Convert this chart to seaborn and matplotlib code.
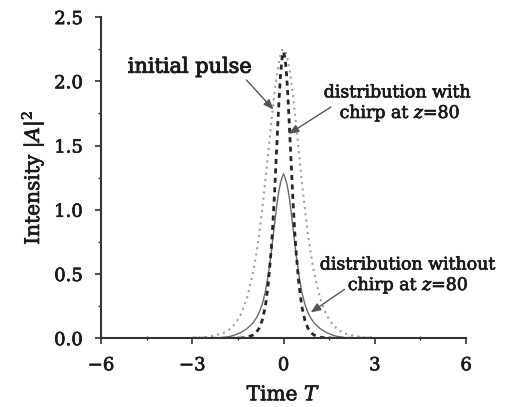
import matplotlib
matplotlib.use("Agg")
import matplotlib.pyplot as plt
import matplotlib.patheffects as pe
import seaborn as sns
import pandas as pd
from matplotlib.ticker import MultipleLocator

# ---- data ----
time_T = [-3.0, -2.5, -2.0, -1.8, -1.6, -1.4, -1.2, -1.0, -0.9, -0.8, -0.7, -0.6, -0.5,
          -0.4, -0.35, -0.3, -0.25, -0.2, -0.15, -0.1, -0.05, 0.0,
          0.05, 0.1, 0.15, 0.2, 0.25, 0.3, 0.35, 0.4, 0.5, 0.6, 0.7, 0.8, 0.9, 1.0,
          1.2, 1.4, 1.6, 1.8, 2.0, 2.5, 3.0]

initial_pulse = [0.002, 0.010, 0.037, 0.064, 0.110, 0.187, 0.313, 0.511, 0.650, 0.814, 1.01, 1.22, 1.455,
                 1.69, 1.80, 1.91, 2.00, 2.09, 2.15, 2.21, 2.24, 2.25,
                 2.24, 2.21, 2.15, 2.09, 2.00, 1.91, 1.80, 1.69, 1.455, 1.22, 1.01, 0.814, 0.650, 0.511,
                 0.313, 0.187, 0.110, 0.064, 0.037, 0.010, 0.002]

with_chirp = [0.0, 0.0, 0.0, 0.0, 0.0, 0.001, 0.008, 0.025, 0.044, 0.079, 0.141, 0.246, 0.43,
              0.708, 0.896, 1.115, 1.36, 1.61, 1.85, 2.05, 2.18, 2.23,
              2.18, 2.05, 1.85, 1.61, 1.36, 1.115, 0.896, 0.708, 0.43, 0.246, 0.141, 0.079, 0.044, 0.025,
              0.008, 0.001, 0.0, 0.0, 0.0, 0.0, 0.0]

without_chirp = [0.0, 0.001, 0.005, 0.012, 0.025, 0.045, 0.075, 0.12, 0.155, 0.20, 0.265, 0.36, 0.50,
                 0.675, 0.78, 0.88, 0.98, 1.077, 1.15, 1.21, 1.25, 1.28,
                 1.25, 1.21, 1.15, 1.077, 0.98, 0.88, 0.78, 0.675, 0.50, 0.36, 0.265, 0.20, 0.155, 0.12,
                 0.075, 0.045, 0.025, 0.012, 0.005, 0.001, 0.0]

x_ticks = [-6, -3, 0, 3, 6]
x_tick_labels = ["\u22126", "\u22123", "0", "3", "6"]
y_ticks = [0.0, 0.5, 1.0, 1.5, 2.0, 2.5]
y_tick_labels = ["0.0", "0.5", "1.0", "1.5", "2.0", "2.5"]

df = pd.DataFrame({"T": time_T, "initial": initial_pulse,
                   "chirp": with_chirp, "nochirp": without_chirp})

sns.set_theme(style="ticks")
plt.rcParams["font.family"] = ["DejaVu Serif"]
plt.rcParams["mathtext.fontset"] = "dejavuserif"

fig = plt.figure(figsize=(5.05, 4.07), dpi=100)
ax = fig.add_axes([0.200, 0.169, 0.723, 0.789])

sns.lineplot(data=df, x="T", y="initial", ax=ax, color="#a0a0a0", lw=1.5,
             linestyle=(0, (1, 2)), sort=False)
sns.lineplot(data=df, x="T", y="nochirp", ax=ax, color="#6a6a6a", lw=1.0, sort=False)
sns.lineplot(data=df, x="T", y="chirp", ax=ax, color="#262626", lw=2.0,
             linestyle=(0, (1.8, 1.6)), sort=False)

ax.set_xlim(-6, 6)
ax.set_ylim(0, 2.5)
ax.set_xticks(x_ticks)
ax.set_xticklabels(x_tick_labels)
ax.set_yticks(y_ticks)
ax.set_yticklabels(y_tick_labels)
ax.xaxis.set_minor_locator(MultipleLocator(1.5))
ax.yaxis.set_minor_locator(MultipleLocator(0.25))

for s in ["top", "right"]:
    ax.spines[s].set_visible(False)
for s in ["left", "bottom"]:
    ax.spines[s].set_linewidth(1.5)
    ax.spines[s].set_color("#333333")

ax.tick_params(axis="both", which="major", length=4, width=1.2, color="#333333",
               labelsize=13, labelcolor="#1a1a1a")
ax.tick_params(axis="x", which="major", pad=9)
ax.tick_params(axis="y", which="major", pad=9)
ax.tick_params(axis="x", which="minor", direction="inout", length=3, width=1.0, color="#333333")
ax.tick_params(axis="y", which="minor", direction="out", length=2.5, width=1.0, color="#333333")

txt_color = "#1a1a1a"
thick = [pe.withStroke(linewidth=0.5, foreground=txt_color)]

ax.set_xlabel("Time $T$", fontsize=14.5, color=txt_color, labelpad=8, path_effects=thick)
ax.set_ylabel("Intensity $|A|^2$", fontsize=14.5, color=txt_color, labelpad=5, path_effects=thick)
for lab in ax.get_xticklabels() + ax.get_yticklabels():
    lab.set_path_effects(thick)

arrow_kw = dict(arrowstyle="-|>,head_length=0.5,head_width=0.2", color="#555555", lw=1.0,
                shrinkA=0, shrinkB=0)

ax.text(-3.07, 2.11, "initial pulse", fontsize=15, ha="center", va="center", color=txt_color,
        path_effects=[pe.withStroke(linewidth=0.7, foreground=txt_color)])
ax.annotate("", xy=(-0.33, 1.78), xytext=(-1.22, 2.01), arrowprops=arrow_kw)

ax.text(3.73, 1.91, "distribution with", fontsize=12.5, ha="center", va="center",
        color=txt_color, clip_on=False, path_effects=thick)
ax.text(3.83, 1.75, "chirp at $z$=80", fontsize=12.5, ha="center", va="center",
        color=txt_color, clip_on=False, path_effects=thick)
ax.annotate("", xy=(0.17, 1.59), xytext=(1.56, 1.80), arrowprops=arrow_kw)

ax.text(4.07, 0.57, "distribution without", fontsize=12.5, ha="center", va="center",
        color=txt_color, clip_on=False, path_effects=thick)
ax.text(4.10, 0.41, "chirp at $z$=80", fontsize=12.5, ha="center", va="center",
        color=txt_color, clip_on=False, path_effects=thick)
ax.annotate("", xy=(0.89, 0.20), xytext=(2.0, 0.38), arrowprops=arrow_kw)

fig.savefig("out.png", dpi=100)
